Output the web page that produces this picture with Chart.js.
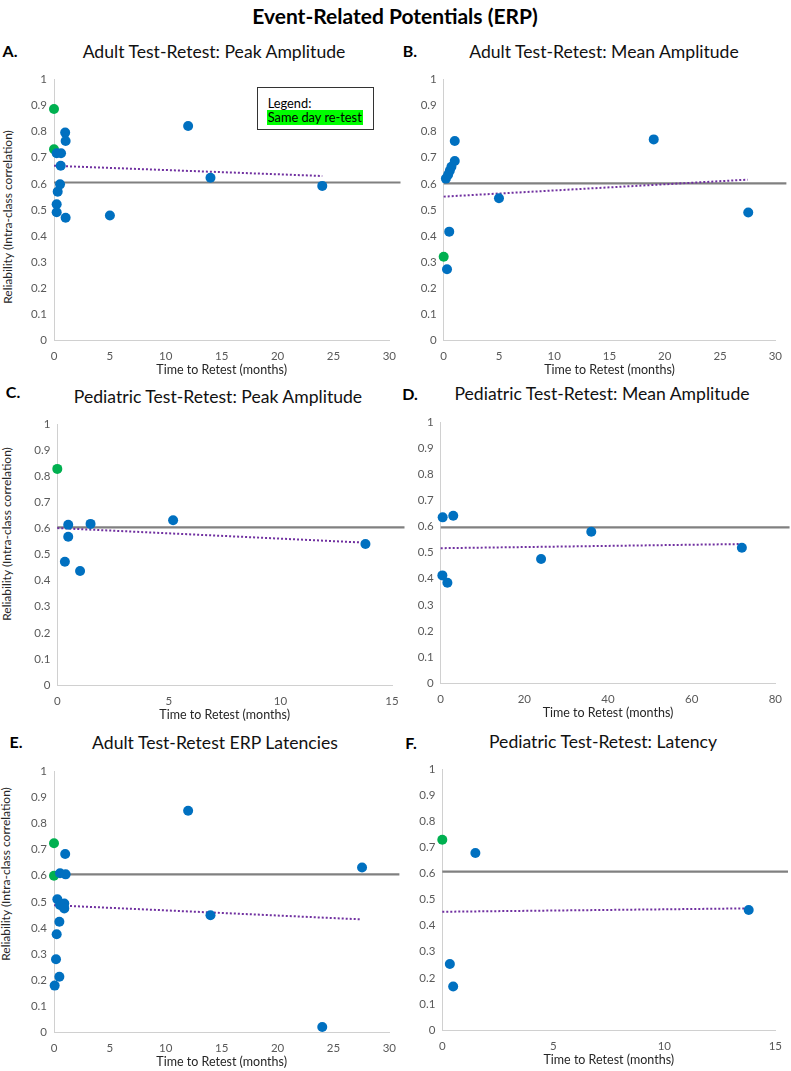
<!DOCTYPE html>
<html><head><meta charset="utf-8">
<script src="https://cdn.jsdelivr.net/npm/chart.js@4.4.1/dist/chart.umd.min.js"></script>
<style>
html,body{margin:0;padding:0;background:#fff;}
body{width:791px;height:1071px;position:relative;overflow:hidden;font-family:Lato,'Open Sans',sans-serif;}
canvas{position:absolute;}
.t{position:absolute;white-space:nowrap;transform:translate(-50%,-50%);line-height:1;color:#111;}
.main{font-weight:bold;font-size:21px;color:#000;}
.ptitle{font-size:17.6px;}
.letter{font-weight:bold;font-size:16px;color:#000;}
.ytitle{position:absolute;white-space:nowrap;transform:translate(-50%,-50%) rotate(-90deg);line-height:1;font-size:12px;color:#262626;}
.legend{position:absolute;left:256.7px;top:87.3px;width:115.3px;height:40.7px;border:1px solid #333;background:#fff;font-size:12.8px;color:#000;}
.legend .l1{position:absolute;left:10px;top:7px;}
.legend .l2{position:absolute;left:9px;top:22px;background:#00ff00;padding:0 1px;height:15px;line-height:15px;}
</style></head><body>

<div class="t main" style="left:395px;top:15px;">Event-Related Potentials (ERP)</div>

<div class="t letter" style="left:10px;top:51px;">A.</div>
<div class="t letter" style="left:410px;top:51px;">B.</div>
<div class="t letter" style="left:13px;top:392px;">C.</div>
<div class="t letter" style="left:410px;top:394px;">D.</div>
<div class="t letter" style="left:16px;top:742px;">E.</div>
<div class="t letter" style="left:411px;top:743px;">F.</div>

<div class="t ptitle" style="left:214px;top:52px;">Adult Test-Retest: Peak Amplitude</div>
<div class="t ptitle" style="left:604px;top:52px;">Adult Test-Retest: Mean Amplitude</div>
<div class="t ptitle" style="left:218px;top:397px;">Pediatric Test-Retest: Peak Amplitude</div>
<div class="t ptitle" style="left:602px;top:394px;">Pediatric Test-Retest: Mean Amplitude</div>
<div class="t ptitle" style="left:215px;top:743px;">Adult Test-Retest ERP Latencies</div>
<div class="t ptitle" style="left:603px;top:742px;">Pediatric Test-Retest: Latency</div>

<div class="ytitle" style="left:8px;top:217px;">Reliability (Intra-class correlation)</div>
<div class="ytitle" style="left:7px;top:534px;">Reliability (Intra-class correlation)</div>
<div class="ytitle" style="left:6px;top:874px;">Reliability (Intra-class correlation)</div>

<canvas id="cA"></canvas>
<canvas id="cB"></canvas>
<canvas id="cC"></canvas>
<canvas id="cD"></canvas>
<canvas id="cE"></canvas>
<canvas id="cF"></canvas>

<div class="legend"><span class="l1">Legend:</span><span class="l2">Same day re-test</span></div>

<script>
// ---------- DATA ----------
const yTicks = [0, 0.1, 0.2, 0.3, 0.4, 0.5, 0.6, 0.7, 0.8, 0.9, 1];
const xTitle = 'Time to Retest (months)';

// A. Adult Test-Retest: Peak Amplitude
const aXTicks = [0, 5, 10, 15, 20, 25, 30];
const aBlueX = [0.24, 0.63, 1.0, 1.04, 0.6, 0.54, 0.33, 0.24, 0.24, 1.04, 5.0, 12.0, 14.0, 24.0];
const aBlueY = [0.717, 0.717, 0.796, 0.764, 0.669, 0.598, 0.570, 0.522, 0.491, 0.470, 0.479, 0.821, 0.623, 0.592];
const aGreenX = [0, 0];
const aGreenY = [0.886, 0.732];
const aTrendX = [0, 24];
const aTrendY = [0.669, 0.630];
const aRefX = [0, 31];
const aRefY = [0.605, 0.605];

// B. Adult Test-Retest: Mean Amplitude
const bXTicks = [0, 5, 10, 15, 20, 25, 30];
const bBlueX = [0.3, 0.5, 0.2, 0.4, 0.55, 0.7, 1.0, 1.0, 5.0, 19.0, 27.55];
const bBlueY = [0.273, 0.417, 0.620, 0.635, 0.650, 0.665, 0.687, 0.764, 0.545, 0.770, 0.490];
const bGreenX = [0];
const bGreenY = [0.321];
const bTrendX = [0, 27.5];
const bTrendY = [0.551, 0.616];
const bRefX = [0, 31];
const bRefY = [0.602, 0.602];

// C. Pediatric Test-Retest: Peak Amplitude
const cXTicks = [0, 5, 10, 15];
const cBlueX = [0.49, 1.49, 0.49, 0.34, 1.02, 5.19, 13.81];
const cBlueY = [0.615, 0.618, 0.569, 0.473, 0.437, 0.632, 0.541];
const cGreenX = [0];
const cGreenY = [0.829];
const cTrendX = [0, 13.8];
const cTrendY = [0.602, 0.546];
const cRefX = [0, 15.56];
const cRefY = [0.605, 0.605];

// D. Pediatric Test-Retest: Mean Amplitude
const dXTicks = [0, 20, 40, 60, 80];
const dBlueX = [0.47, 3.0, 0.4, 1.6, 24, 36, 72];
const dBlueY = [0.635, 0.641, 0.413, 0.385, 0.476, 0.580, 0.519];
const dGreenX = [];
const dGreenY = [];
const dTrendX = [0, 72];
const dTrendY = [0.517, 0.533];
const dRefX = [0, 83.4];
const dRefY = [0.597, 0.597];

// E. Adult Test-Retest ERP Latencies
const eXTicks = [0, 5, 10, 15, 20, 25, 30];
const eBlueX = [1.0, 0.54, 1.04, 0.3, 0.92, 0.54, 0.92, 0.48, 0.24, 0.18, 0.48, 0.06, 12.0, 14.0, 27.56, 24.0];
const eBlueY = [0.683, 0.609, 0.605, 0.510, 0.494, 0.488, 0.475, 0.424, 0.376, 0.281, 0.214, 0.180, 0.848, 0.449, 0.631, 0.022];
const eGreenX = [0, 0];
const eGreenY = [0.724, 0.600];
const eTrendX = [0, 27.5];
const eTrendY = [0.487, 0.433];
const eRefX = [0, 30.9];
const eRefY = [0.605, 0.605];

// F. Pediatric Test-Retest: Latency
const fXTicks = [0, 5, 10, 15];
const fBlueX = [1.49, 0.34, 0.49, 13.8];
const fBlueY = [0.678, 0.253, 0.167, 0.460];
const fGreenX = [0];
const fGreenY = [0.729];
const fTrendX = [0, 13.8];
const fTrendY = [0.453, 0.466];
const fRefX = [0, 15.57];
const fRefY = [0.607, 0.607];

// ---------- LAYOUT / STYLE ----------
const FONT = "Lato, 'Open Sans', sans-serif";
const YW = 30, XH = 37;
const BLUE = '#0070c0', GREEN = '#00b050', PURPLE = '#7030a0', REF = '#808080', AXIS = '#d0d0d0', TICK = '#595959';

function pts(xs, ys) { return xs.map((x, i) => ({x: x, y: ys[i]})); }

function makeChart(id, box, area, d) {
  const c = document.getElementById(id);
  c.width = box.w; c.height = box.h;
  c.style.left = box.x + 'px'; c.style.top = box.y + 'px';
  c.style.width = box.w + 'px'; c.style.height = box.h + 'px';
  const pad = {
    left: area.l - box.x - YW,
    right: box.x + box.w - area.r,
    top: area.t - box.y,
    bottom: box.y + box.h - area.b - XH
  };
  const xt = d.xTicks;
  new Chart(c, {
    type: 'scatter',
    data: {
      datasets: [
        {data: pts(d.blueX, d.blueY), backgroundColor: BLUE, borderWidth: 0, pointRadius: 5, clip: false, order: 1},
        {data: pts(d.greenX, d.greenY), backgroundColor: GREEN, borderWidth: 0, pointRadius: 5, clip: false, order: 2},
        {data: pts(d.trendX, d.trendY), showLine: true, borderColor: PURPLE, borderWidth: 2, borderDash: [2, 2], pointRadius: 0, clip: false, order: 3},
        {data: pts(d.refX, d.refY), showLine: true, borderColor: REF, borderWidth: 2.2, pointRadius: 0, clip: false, order: 4}
      ]
    },
    options: {
      responsive: false, animation: false, devicePixelRatio: 1,
      layout: {padding: pad},
      plugins: {legend: {display: false}, tooltip: {enabled: false}, title: {display: false}},
      events: [],
      scales: {
        x: {
          type: 'linear', min: xt[0], max: xt[xt.length - 1],
          afterFit: s => { s.height = XH; },
          ticks: {stepSize: xt[1] - xt[0], color: TICK, padding: 9, font: {family: FONT, size: 11.5}},
          grid: {display: false, drawTicks: false},
          border: {display: true, color: AXIS, width: 1},
          title: {display: true, text: xTitle, color: '#262626', padding: {top: 0, bottom: 0}, font: {family: FONT, size: 12.5}}
        },
        y: {
          type: 'linear', min: yTicks[0], max: yTicks[yTicks.length - 1],
          afterFit: s => { s.width = YW; },
          ticks: {stepSize: yTicks[1] - yTicks[0], color: TICK, padding: 7, font: {family: FONT, size: 11.5},
                  callback: v => String(Number(v.toFixed(1)))},
          grid: {display: false, drawTicks: false},
          border: {display: true, color: AXIS, width: 1}
        }
      }
    }
  });
}

makeChart('cA', {x: 0, y: 65, w: 405, h: 315}, {l: 54, t: 79.3, r: 390, b: 340.6},
  {xTicks: aXTicks, blueX: aBlueX, blueY: aBlueY, greenX: aGreenX, greenY: aGreenY, trendX: aTrendX, trendY: aTrendY, refX: aRefX, refY: aRefY});
makeChart('cB', {x: 410, y: 65, w: 381, h: 315}, {l: 443.7, t: 79.3, r: 779.7, b: 340.6},
  {xTicks: bXTicks, blueX: bBlueX, blueY: bBlueY, greenX: bGreenX, greenY: bGreenY, trendX: bTrendX, trendY: bTrendY, refX: bRefX, refY: bRefY});
makeChart('cC', {x: 0, y: 400, w: 410, h: 325}, {l: 57.3, t: 424.3, r: 392, b: 685},
  {xTicks: cXTicks, blueX: cBlueX, blueY: cBlueY, greenX: cGreenX, greenY: cGreenY, trendX: cTrendX, trendY: cTrendY, refX: cRefX, refY: cRefY});
makeChart('cD', {x: 410, y: 400, w: 381, h: 325}, {l: 440.7, t: 422, r: 776.7, b: 683.3},
  {xTicks: dXTicks, blueX: dBlueX, blueY: dBlueY, greenX: dGreenX, greenY: dGreenY, trendX: dTrendX, trendY: dTrendY, refX: dRefX, refY: dRefY});
makeChart('cE', {x: 0, y: 755, w: 405, h: 316}, {l: 54, t: 771, r: 390, b: 1032.7},
  {xTicks: eXTicks, blueX: eBlueX, blueY: eBlueY, greenX: eGreenX, greenY: eGreenY, trendX: eTrendX, trendY: eTrendY, refX: eRefX, refY: eRefY});
makeChart('cF', {x: 410, y: 755, w: 381, h: 316}, {l: 442.3, t: 769, r: 778.3, b: 1030},
  {xTicks: fXTicks, blueX: fBlueX, blueY: fBlueY, greenX: fGreenX, greenY: fGreenY, trendX: fTrendX, trendY: fTrendY, refX: fRefX, refY: fRefY});
</script>
</body></html>
